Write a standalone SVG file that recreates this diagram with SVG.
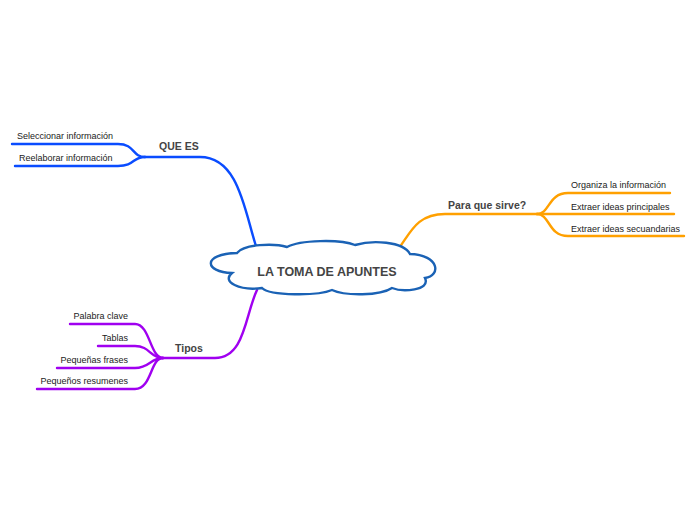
<svg xmlns="http://www.w3.org/2000/svg" width="696" height="520" viewBox="0 0 696 520">
<style>
.t{font-family:"Liberation Sans",Arial,sans-serif;font-size:9px;fill:#222}
.b{font-family:"Liberation Sans",Arial,sans-serif;font-size:10.5px;font-weight:bold;fill:#444}
.c{fill:none;stroke-width:2.4;stroke-linecap:round}
.bl{stroke:#0a4cff}.or{stroke:#ffa000}.pu{stroke:#a000f0}
</style>
<rect width="696" height="520" fill="#fff"/>
<g id="connectors">
<path class="c bl" d="M257,249 C245,215 240,157 200,157 L145,157"/>
<path class="c bl" d="M145,157 C132,157 135,144 118,144 L12,144"/>
<path class="c bl" d="M145,157 C132,157 135,166 118,166 L15,166"/>
<path class="c or" d="M396,252 C410,235 415,214 445,214 L537,214"/>
<path class="c or" d="M537,214 C550,214 548,193 568,193 L670,193"/>
<path class="c or" d="M537,214 L674,214"/>
<path class="c or" d="M537,214 C550,214 548,236 568,236 L684,236"/>
<path class="c pu" d="M257,290 C245,315 245,358 215,358 L163,358"/>
<path class="c pu" d="M163,358 C150,358 150,324 135,324 L70,324"/>
<path class="c pu" d="M163,358 C150,358 150,346 135,346 L98,346"/>
<path class="c pu" d="M163,358 C150,358 150,368 135,368 L57,368"/>
<path class="c pu" d="M163,358 C150,358 152,389 135,389 L37,389"/>
</g>
<g id="center">
<path d="M232,273 C204,272 202,254 237,253 C244,244 274,243 287,247 C300,240 340,239 355,245 C372,240 403,241 410,254 C440,255 441,276 425,278 C431,291 402,292 392,288 C380,296 345,296 332,290 C318,296 270,296 262,288 C240,291 221,282 232,273 Z" fill="#fff" stroke="#1a62b5" stroke-width="2.4"/>
<text class="b" x="327" y="276" text-anchor="middle" style="font-size:12.5px">LA TOMA DE APUNTES</text>
</g>
<g id="que-es">
<text class="b" x="159" y="150">QUE ES</text>
</g>
<g id="seleccionar"><text class="t" x="17" y="139">Seleccionar información</text></g>
<g id="reelaborar"><text class="t" x="19" y="161">Reelaborar información</text></g>
<g id="para-que-sirve"><text class="b" x="448" y="209">Para que sirve?</text></g>
<g id="organiza"><text class="t" x="571" y="188">Organiza la información</text></g>
<g id="principales"><text class="t" x="571" y="210">Extraer ideas principales</text></g>
<g id="secundarias"><text class="t" x="571" y="232">Extraer ideas secuandarias</text></g>
<g id="tipos"><text class="b" x="175" y="352">Tipos</text></g>
<g id="palabra"><text class="t" x="128" y="319" text-anchor="end">Palabra clave</text></g>
<g id="tablas"><text class="t" x="128" y="341" text-anchor="end">Tablas</text></g>
<g id="frases"><text class="t" x="128" y="363" text-anchor="end">Pequeñas frases</text></g>
<g id="resumenes"><text class="t" x="128" y="384" text-anchor="end">Pequeños resumenes</text></g>
</svg>
